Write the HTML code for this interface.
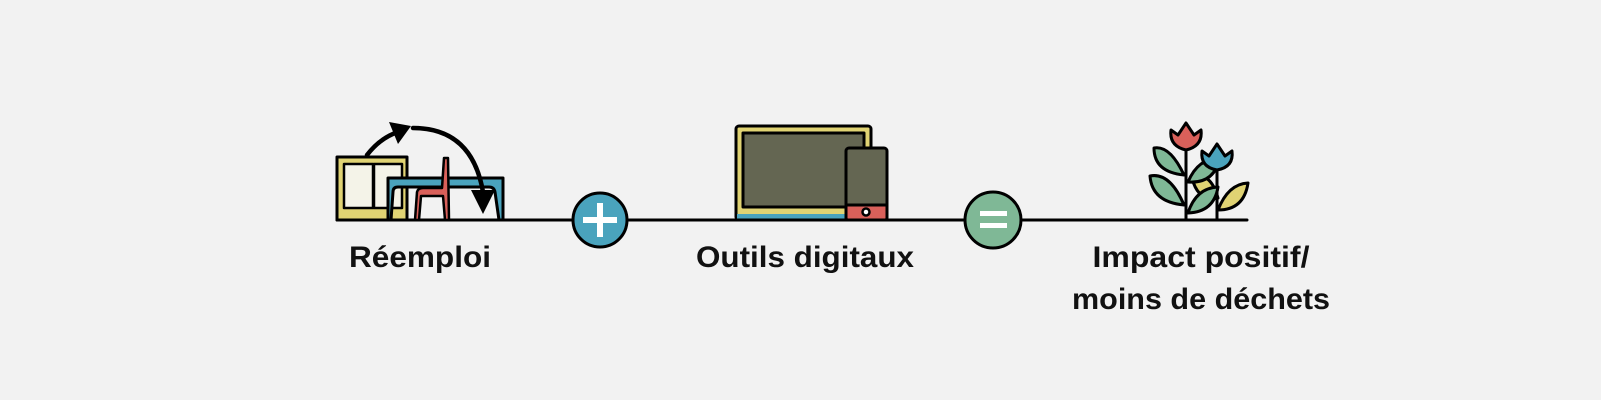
<!DOCTYPE html>
<html><head><meta charset="utf-8"><style>
html,body{margin:0;padding:0;background:#f2f2f2;}
svg{display:block}
text{font-family:"Liberation Sans",sans-serif;font-weight:bold;font-size:30px;fill:#111}
</style></head><body>
<svg width="1601" height="400" viewBox="0 0 1601 400" xmlns="http://www.w3.org/2000/svg">
<rect width="1601" height="400" fill="#f2f2f2"/>
<g stroke="#000" stroke-width="3" stroke-linejoin="round" stroke-linecap="round">
<line x1="337" y1="220" x2="1247" y2="220"/>
<rect x="337" y="157" width="70" height="63" fill="#e0d373"/>
<rect x="344" y="164" width="29" height="44" fill="#f4f3e8" stroke-width="2.5"/>
<rect x="374" y="164" width="28" height="44" fill="#f4f3e8" stroke-width="2.5"/>
<path d="M388 220 L388 178 L503 178 L503 220 L499 220 L495 192 Q494 187 489 187 L398 187 Q393 187 393 192 L391 220 Z" fill="#4aa3bd"/>
<path d="M444 158 L448 158 L449 220 L445 220 L443 196 L421 196 L419 220 L415 220 L417 192 Q418 188 423 188 L442 188 Z" fill="#d9605a" stroke-width="2.5"/>
<path d="M367 155 Q380 138 398 132" fill="none" stroke-width="4.5"/>
<polygon points="411,126 389,122 398,144" fill="#000" stroke="none"/>
<path d="M413 128 Q472 128 483 192" fill="none" stroke-width="4.5"/>
<polygon points="483,214 471,190 495,190" fill="#000" stroke="none"/>
<circle cx="600" cy="220" r="27" fill="#4aa3bd"/>
</g>
<rect x="597" y="203" width="6" height="34" fill="#fff"/>
<rect x="583" y="217" width="34" height="6" fill="#fff"/>
<g stroke="#000" stroke-width="3" stroke-linejoin="round">
<rect x="736" y="126" width="135" height="94" rx="3" fill="#e0d373"/>
<rect x="743" y="133" width="121" height="74" fill="#646652"/>
<rect x="737" y="214" width="133" height="6" fill="#4aa3bd" stroke="none"/>
<line x1="736" y1="220" x2="871" y2="220"/>
<rect x="846" y="148" width="41" height="72" rx="3" fill="#646652"/>
<path d="M846 205 L887 205 L887 218 Q887 220 885 220 L848 220 Q846 220 846 218 Z" fill="#d9605a"/>
<circle cx="866" cy="212" r="3.5" fill="#fff" stroke-width="2.5"/>
<circle cx="993" cy="220" r="28" fill="#7fb896"/>
</g>
<rect x="980" y="211" width="27" height="5" fill="#fff"/>
<rect x="980" y="223" width="27" height="5" fill="#fff"/>
<g stroke="#000" stroke-width="3" stroke-linejoin="round">
<path d="M1192 178 Q1210 170 1218 198 Q1198 202 1192 178 Z" fill="#e0d373"/>
<path d="M1218 210 Q1228 184 1248 183 Q1244 210 1218 210 Z" fill="#e0d373"/>
<line x1="1186" y1="145" x2="1186" y2="220"/>
<line x1="1217" y1="165" x2="1217" y2="220"/>
<path d="M1184 175 Q1170 145 1154 148 Q1154 172 1184 175 Z" fill="#7fb896"/>
<path d="M1188 182 Q1198 158 1220 158 Q1214 184 1188 182 Z" fill="#7fb896"/>
<path d="M1184 205 Q1170 172 1150 176 Q1152 202 1184 205 Z" fill="#7fb896"/>
<path d="M1188 213 Q1196 188 1218 187 Q1214 212 1188 213 Z" fill="#7fb896"/>
<path d="M1171 130 L1178 135 L1186 123 L1194 135 L1201 130 Q1203 146 1186 150 Q1169 146 1171 130 Z" fill="#d9605a"/>
<path d="M1202 151 L1209 156 L1217 144 L1225 156 L1232 151 Q1234 167 1217 170 Q1200 167 1202 151 Z" fill="#4aa3bd"/>
</g>
<text x="420" y="267" text-anchor="middle" textLength="142" lengthAdjust="spacingAndGlyphs">Réemploi</text>
<text x="805" y="267" text-anchor="middle" textLength="218" lengthAdjust="spacingAndGlyphs">Outils digitaux</text>
<text x="1201" y="267" text-anchor="middle" textLength="217" lengthAdjust="spacingAndGlyphs">Impact positif/</text>
<text x="1201" y="309" text-anchor="middle" textLength="258" lengthAdjust="spacingAndGlyphs">moins de déchets</text>
</svg>
</body></html>
